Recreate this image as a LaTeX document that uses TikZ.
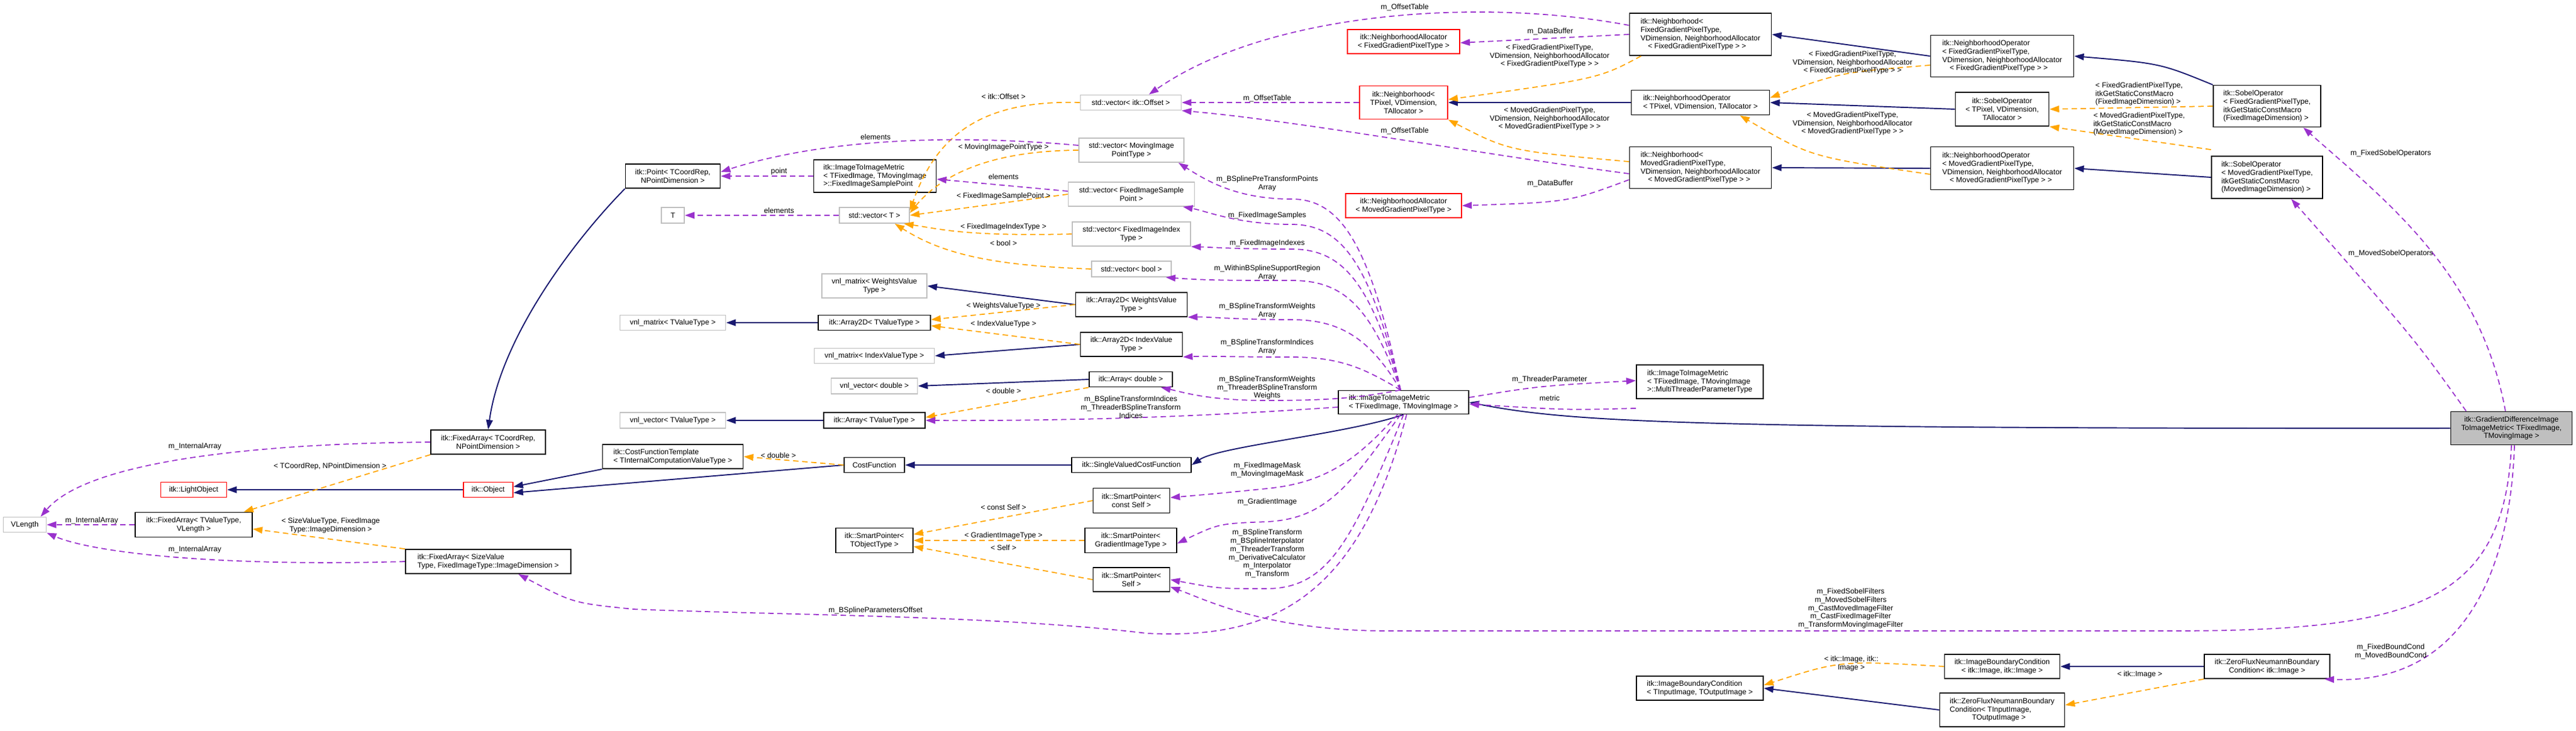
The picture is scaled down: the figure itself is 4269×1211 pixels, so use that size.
\documentclass[tikz,border=0pt]{standalone}
\usepackage{fontspec}
\setmainfont{Liberation Sans}
\usetikzlibrary{arrows.meta}
\definecolor{inhblue}{HTML}{191970}
\definecolor{tplorange}{HTML}{FFA500}
\definecolor{usepurple}{HTML}{9A32CD}
\definecolor{undoc}{HTML}{BFBFBF}
\begin{document}
\begin{tikzpicture}[x=0.01cm,y=-0.01cm,
    font=\fontsize{3.5}{3.9}\selectfont,
    cls/.style={draw=black, line width=0.5pt, inner sep=0pt, align=center},
    clsgray/.style={cls, draw=undoc},
    clsred/.style={cls, draw=red},
    lbl/.style={inner sep=0pt, align=center},
    tip/.style={-{Triangle[length=0.16cm,width=0.11cm]}},
    inh/.style={tip, draw=inhblue, line width=0.55pt},
    tpl/.style={tip, draw=tplorange, line width=0.5pt, dash pattern=on 0.09cm off 0.06cm},
    use/.style={tip, draw=usepurple, line width=0.5pt, dash pattern=on 0.09cm off 0.06cm}]
  \useasboundingbox (0,0) rectangle (4269,1211);

  % left column
  \node[clsgray, minimum width=0.71cm, minimum height=0.25cm] (vlen) at (41,870) {VLength};
  \node[clsred, minimum width=1.09cm, minimum height=0.25cm] (light) at (321,812) {itk::LightObject};
  \node[clsred, minimum width=0.82cm, minimum height=0.25cm] (obj) at (809,812) {itk::Object};
  \node[cls, minimum width=1.94cm, minimum height=0.41cm] (fatv) at (321,870) {itk::FixedArray< TValueType,\\VLength >};
  \node[cls, minimum width=1.90cm, minimum height=0.40cm] (fatc) at (809,733) {itk::FixedArray< TCoordRep,\\NPointDimension >};
  \node[cls, minimum width=2.74cm, minimum height=0.40cm, align=left] (fasv) at (809,931) {itk::FixedArray< SizeValue\\Type, FixedImageType::ImageDimension >};

  % second column
  \node[cls, minimum width=1.57cm, minimum height=0.40cm] (point) at (1115,292) {itk::Point< TCoordRep,\\NPointDimension >};
  \node[clsgray, minimum width=0.38cm, minimum height=0.26cm] (tt) at (1115,357) {T};
  \node[clsgray, minimum width=1.75cm, minimum height=0.25cm] (vnlmt) at (1115,535) {vnl\_matrix< TValueType >};
  \node[clsgray, minimum width=1.75cm, minimum height=0.26cm] (vnlvt) at (1115,697) {vnl\_vector< TValueType >};
  \node[cls, minimum width=2.33cm, minimum height=0.40cm, align=left] (cft) at (1115,757) {itk::CostFunctionTemplate\\< TInternalComputationValueType >};

  % third column
  \node[cls, minimum width=2.03cm, minimum height=0.54cm, align=left] (fisp) at (1450,292) {itk::ImageToImageMetric\\< TFixedImage, TMovingImage\\ >::FixedImageSamplePoint};
  \node[clsgray, minimum width=1.16cm, minimum height=0.26cm] (vect) at (1449,357) {std::vector< T >};
  \node[clsgray, minimum width=1.74cm, minimum height=0.40cm] (vnlmw) at (1449,474) {vnl\_matrix< WeightsValue\\Type >};
  \node[cls, minimum width=1.86cm, minimum height=0.25cm] (a2dt) at (1449,535) {itk::Array2D< TValueType >};
  \node[clsgray, minimum width=1.99cm, minimum height=0.25cm] (vnlmi) at (1449,590) {vnl\_matrix< IndexValueType >};
  \node[clsgray, minimum width=1.43cm, minimum height=0.26cm] (vnlvd) at (1449,640) {vnl\_vector< double >};
  \node[cls, minimum width=1.68cm, minimum height=0.26cm] (arrt) at (1449,697) {itk::Array< TValueType >};
  \node[cls, minimum width=1.00cm, minimum height=0.25cm] (cf) at (1449,771) {CostFunction};
  \node[cls, minimum width=1.28cm, minimum height=0.41cm] (spt) at (1449,896) {itk::SmartPointer<\\TObjectType >};

  % fourth column
  \node[clsgray, minimum width=1.67cm, minimum height=0.25cm] (vecoff) at (1874,170) {std::vector< itk::Offset >};
  \node[clsgray, minimum width=1.74cm, minimum height=0.40cm] (vecmip) at (1875,249) {std::vector< MovingImage\\PointType >};
  \node[clsgray, minimum width=2.09cm, minimum height=0.40cm] (vecfisp) at (1875,322) {std::vector< FixedImageSample\\Point >};
  \node[clsgray, minimum width=1.96cm, minimum height=0.40cm] (vecfii) at (1875,388) {std::vector< FixedImageIndex\\Type >};
  \node[clsgray, minimum width=1.32cm, minimum height=0.26cm] (vecbool) at (1875,446) {std::vector< bool >};
  \node[cls, minimum width=1.85cm, minimum height=0.40cm] (a2dw) at (1875,505) {itk::Array2D< WeightsValue\\Type >};
  \node[cls, minimum width=1.69cm, minimum height=0.40cm] (a2di) at (1875,571) {itk::Array2D< IndexValue\\Type >};
  \node[cls, minimum width=1.38cm, minimum height=0.25cm] (arrd) at (1874,629) {itk::Array< double >};
  \node[cls, minimum width=1.98cm, minimum height=0.25cm] (svcf) at (1875,771) {itk::SingleValuedCostFunction};
  \node[cls, minimum width=1.27cm, minimum height=0.41cm] (spc) at (1875,830) {itk::SmartPointer<\\const Self >};
  \node[cls, minimum width=1.52cm, minimum height=0.41cm] (spg) at (1874,896) {itk::SmartPointer<\\GradientImageType >};
  \node[cls, minimum width=1.27cm, minimum height=0.40cm] (sps) at (1875,961) {itk::SmartPointer<\\Self >};

  % fifth column
  \node[clsred, minimum width=1.86cm, minimum height=0.40cm] (naf) at (2326,69) {itk::NeighborhoodAllocator\\< FixedGradientPixelType >};
  \node[clsred, minimum width=1.46cm, minimum height=0.55cm] (nbt) at (2326,170) {itk::Neighborhood<\\TPixel, VDimension,\\TAllocator >};
  \node[clsred, minimum width=1.92cm, minimum height=0.40cm] (nam) at (2326,341) {itk::NeighborhoodAllocator\\< MovedGradientPixelType >};
  \node[cls, fill=undoc!0, minimum width=2.16cm, minimum height=0.39cm, align=left] (metric) at (2326,667) {itk::ImageToImageMetric\\< TFixedImage, TMovingImage >};

  % sixth column
  \node[cls, minimum width=2.35cm, minimum height=0.70cm, align=left] (nbf) at (2818,57) {itk::Neighborhood<\\ FixedGradientPixelType,\\ VDimension, NeighborhoodAllocator\\ \quad< FixedGradientPixelType > >};
  \node[cls, minimum width=2.29cm, minimum height=0.41cm, align=left] (not) at (2818,170) {itk::NeighborhoodOperator\\< TPixel, VDimension, TAllocator >};
  \node[cls, minimum width=2.35cm, minimum height=0.69cm, align=left] (nbm) at (2818,278) {itk::Neighborhood<\\ MovedGradientPixelType,\\ VDimension, NeighborhoodAllocator\\ \quad< MovedGradientPixelType > >};
  \node[cls, minimum width=2.10cm, minimum height=0.56cm, align=left] (mtp) at (2817,633) {itk::ImageToImageMetric\\< TFixedImage, TMovingImage\\ >::MultiThreaderParameterType};
  \node[cls, minimum width=2.10cm, minimum height=0.40cm, align=left] (ibct) at (2817,1141) {itk::ImageBoundaryCondition\\< TInputImage, TOutputImage >};

  % seventh column
  \node[cls, minimum width=2.37cm, minimum height=0.69cm, align=left] (nof) at (3318,93) {itk::NeighborhoodOperator\\< FixedGradientPixelType,\\ VDimension, NeighborhoodAllocator\\ \quad< FixedGradientPixelType > >};
  \node[cls, minimum width=1.55cm, minimum height=0.56cm] (sot) at (3318,181) {itk::SobelOperator\\< TPixel, VDimension,\\TAllocator >};
  \node[cls, minimum width=2.37cm, minimum height=0.71cm, align=left] (nom) at (3318,279) {itk::NeighborhoodOperator\\< MovedGradientPixelType,\\ VDimension, NeighborhoodAllocator\\ \quad< MovedGradientPixelType > >};
  \node[cls, minimum width=1.91cm, minimum height=0.40cm] (ibci) at (3318,1105) {itk::ImageBoundaryCondition\\< itk::Image, itk::Image >};
  \node[cls, minimum width=2.07cm, minimum height=0.56cm, align=left] (zft) at (3318,1177) {itk::ZeroFluxNeumannBoundary\\Condition< TInputImage,\\ \qquad\quad TOutputImage >};

  % eighth column
  \node[cls, minimum width=1.78cm, minimum height=0.69cm, align=left] (sof) at (3757,176) {itk::SobelOperator\\< FixedGradientPixelType,\\ itkGetStaticConstMacro\\ (FixedImageDimension) >};
  \node[cls, minimum width=1.84cm, minimum height=0.70cm, align=left] (som) at (3757,294) {itk::SobelOperator\\< MovedGradientPixelType,\\ itkGetStaticConstMacro\\ (MovedImageDimension) >};
  \node[cls, minimum width=2.08cm, minimum height=0.40cm] (zfi) at (3757,1105) {itk::ZeroFluxNeumannBoundary\\Condition< itk::Image >};
  \node[cls, fill=undoc, minimum width=2.01cm, minimum height=0.55cm] (grad) at (4162,710) {itk::GradientDifferenceImage\\ToImageMetric< TFixedImage,\\TMovingImage >};

  % inheritance
  \draw[inh] (grad.west) .. controls (2800,711) and (2600,700) .. (metric.east);
  \draw[inh] (metric.south) .. controls (2230,720) and (2020,740) .. (svcf.east);
  \draw[inh] (svcf.west) -- (cf.east);
  \draw[inh] (cf.west) -- ([yshift=-0.05cm]obj.east);
  \draw[inh] (cft.south west) -- ([yshift=0.05cm]obj.east);
  \draw[inh] (obj.west) -- (light.east);
  \draw[inh] (point.south west) .. controls (950,400) and (830,560) .. (fatc.north);
  \draw[inh] (a2dw.west) -- (vnlmw.east);
  \draw[inh] (a2dt.west) -- (vnlmt.east);
  \draw[inh] (a2di.west) -- (vnlmi.east);
  \draw[inh] (arrd.west) -- (vnlvd.east);
  \draw[inh] (arrt.west) -- (vnlvt.east);
  \draw[inh] (not.west) -- (nbt.east);
  \draw[inh] (nof.west) -- (nbf.east);
  \draw[inh] (nom.west) -- (nbm.east);
  \draw[inh] (sot.west) -- (not.east);
  \draw[inh] (sof.north west) .. controls (3580,105) .. (nof.east);
  \draw[inh] (som.west) -- (nom.east);
  \draw[inh] (zfi.west) -- (ibci.east);
  \draw[inh] (zft.west) -- (ibct.east);

  % template instances
  \draw[tpl] (fatc.south west) -- ([xshift=-0.15cm]fatv.north east);
  \draw[tpl] (fasv.north west) -- ([yshift=-0.07cm]fatv.east);
  \draw[tpl] (vecoff.west) .. controls (1620,165) and (1550,230) .. ([yshift=0.08cm]vect.east);
  \draw[tpl] (vecmip.west) .. controls (1640,250) and (1560,290) .. ([yshift=0.04cm]vect.east);
  \draw[tpl] (vecfisp.west) -- (vect.east);
  \draw[tpl] (vecfii.west) .. controls (1600,392) and (1560,380) .. ([xshift=-0.1cm]vect.south east);
  \draw[tpl] (vecbool.west) .. controls (1640,440) and (1560,420) .. ([xshift=-0.25cm]vect.south east);
  \draw[tpl] (a2dw.west) -- ([yshift=0.05cm]a2dt.east);
  \draw[tpl] (a2di.west) -- ([yshift=-0.05cm]a2dt.east);
  \draw[tpl] (arrd.south west) -- ([yshift=0.05cm]arrt.east);
  \draw[tpl] (cf.west) -- (cft.east);
  \draw[tpl] (spc.west) -- ([yshift=0.1cm]spt.east);
  \draw[tpl] (spg.west) -- (spt.east);
  \draw[tpl] (sps.west) -- ([yshift=-0.1cm]spt.east);
  \draw[tpl] ([xshift=0.2cm]nbf.south west) .. controls (2650,130) .. ([yshift=0.05cm]nbt.east);
  \draw[tpl] ([yshift=0.1cm]nbm.west) .. controls (2500,250) .. (nbt.south east);
  \draw[tpl] ([yshift=-0.15cm]nof.west) .. controls (3050,120) .. ([yshift=0.08cm]not.east);
  \draw[tpl] ([yshift=-0.1cm]nom.west) .. controls (3000,260) .. ([xshift=-0.5cm]not.south east);
  \draw[tpl] (sof.west) -- (sot.east);
  \draw[tpl] ([yshift=0.1cm]som.north west) -- (sot.south east);
  \draw[tpl] (zfi.south west) -- ([yshift=0.08cm]zft.east);
  \draw[tpl] (ibci.west) .. controls (3050,1095) .. ([yshift=0.05cm]ibct.east);

  % members
  \draw[use] (fatc.west) .. controls (450,735) and (150,760) .. ([xshift=-0.1cm]vlen.north east);
  \draw[use] (fatv.west) -- (vlen.east);
  \draw[use] (fasv.west) .. controls (350,940) and (150,915) .. (vlen.south east);
  \draw[use] ([yshift=0.08cm]vecmip.west) .. controls (1550,220) and (1350,235) .. ([yshift=0.07cm]point.east);
  \draw[use] (fisp.west) -- (point.east);
  \draw[use] ([yshift=0.05cm]vecfisp.west) -- ([yshift=-0.05cm]fisp.east);
  \draw[use] (vect.west) -- (tt.east);
  \draw[use] (nbt.west) -- (vecoff.east);
  \draw[use] ([yshift=0.15cm]nbf.west) .. controls (2450,-5) and (2100,20) .. ([xshift=0.3cm]vecoff.north);
  \draw[use] ([yshift=-0.1cm]nbm.west) .. controls (2450,255) and (2150,200) .. (vecoff.south east);
  \draw[use] (nbf.west) -- ([yshift=-0.02cm]naf.east);
  \draw[use] ([yshift=-0.2cm]nbm.west) .. controls (2600,335) .. (nam.east);
  \draw[use] ([yshift=0.08cm]metric.east) .. controls (2550,640) .. ([yshift=0.02cm]mtp.west);
  \draw[use] ([yshift=-0.15cm]mtp.south west) .. controls (2600,680) .. ([yshift=-0.03cm]metric.east);

  % members of the metric, upwards
  \draw[use] ([xshift=-0.05cm]metric.north) .. controls (2270,400) and (2220,330) .. (2140,330) .. controls (2050,330) and (2000,300) .. ([xshift=-0.1cm]vecmip.south east);
  \draw[use] ([xshift=-0.05cm]metric.north) .. controls (2270,430) and (2220,372) .. (2140,372) .. controls (2050,372) and (2000,350) .. ([xshift=-0.2cm]vecfisp.south east);
  \draw[use] ([xshift=-0.05cm]metric.north) .. controls (2270,460) and (2220,413) .. (2140,413) .. controls (2050,413) and (2010,410) .. (vecfii.south east);
  \draw[use] ([xshift=-0.05cm]metric.north) .. controls (2270,500) and (2220,465) .. (2140,465) .. controls (2050,465) and (2000,465) .. ([xshift=-0.1cm]vecbool.south east);
  \draw[use] ([xshift=-0.05cm]metric.north) .. controls (2270,560) and (2220,530) .. (2140,530) .. controls (2050,530) and (2000,525) .. (a2dw.south east);
  \draw[use] ([xshift=-0.05cm]metric.north) .. controls (2260,610) and (2220,592) .. (2140,592) .. controls (2050,592) and (2000,590) .. (a2di.south east);
  \draw[use] ([xshift=-0.05cm]metric.north) .. controls (2250,660) and (2200,664) .. (2100,664) .. controls (2000,664) and (1960,650) .. ([xshift=-0.2cm]arrd.south east);
  \draw[use] ([yshift=-0.08cm]metric.west) .. controls (2000,690) and (1800,698) .. (arrt.east);

  % members of the metric, downwards
  \draw[use] ([xshift=-0.1cm]metric.south) .. controls (2250,760) and (2200,800) .. (2100,810) .. controls (2020,818) .. ([yshift=0.05cm]spc.east);
  \draw[use] ([xshift=-0.05cm]metric.south) .. controls (2240,800) and (2200,860) .. (2100,865) .. controls (2020,868) .. ([yshift=-0.05cm]spg.east);
  \draw[use] (metric.south) .. controls (2240,900) and (2200,975) .. (2100,976) .. controls (2020,976) .. (sps.east);
  \draw[use] ([xshift=0.05cm]metric.south) .. controls (2250,1000) and (2100,1060) .. (1900,1050) .. controls (1650,1020) and (1300,1020) .. (1050,1010) .. controls (950,1000) .. ([xshift=0.5cm]fasv.south);

  % members of the gradient metric
  \draw[use] ([xshift=-0.1cm]grad.north) .. controls (4110,450) and (3950,330) .. ([xshift=0.6cm]sof.south);
  \draw[use] ([xshift=-0.75cm]grad.north) .. controls (4000,560) .. ([xshift=0.4cm]som.south);
  \draw[use] (grad.south) .. controls (4150,1000) and (4000,1046) .. (3600,1046) -- (2300,1046) .. controls (2100,1046) and (2000,995) .. ([yshift=-0.12cm]sps.east);
  \draw[use] ([xshift=0.05cm]grad.south) .. controls (4160,950) and (4080,1135) .. ([xshift=-0.1cm]zfi.south east);

  % labels
  \node[lbl] (l1) at (152,863) {m\_InternalArray};
  \node[lbl] (l2) at (323,740) {m\_InternalArray};
  \node[lbl] (l3) at (323,911) {m\_InternalArray};
  \node[lbl] (l4) at (547,773) {< TCoordRep, NPointDimension >};
  \node[lbl] (l5) at (548,871) {< SizeValueType, FixedImage\\Type::ImageDimension >};
  \node[lbl] (l6) at (1663,160) {< itk::Offset >};
  \node[lbl] (l7) at (1451,227) {elements};
  \node[lbl] (l8) at (1663,244) {< MovingImagePointType >};
  \node[lbl] (l9) at (1291,284) {point};
  \node[lbl] (l10) at (1663,293) {elements};
  \node[lbl] (l11) at (1663,325) {< FixedImageSamplePoint >};
  \node[lbl] (l12) at (1291,349) {elements};
  \node[lbl] (l13) at (1663,376) {< FixedImageIndexType >};
  \node[lbl] (l14) at (1663,403) {< bool >};
  \node[lbl] (l15) at (1663,507) {< WeightsValueType >};
  \node[lbl] (l16) at (1663,537) {< IndexValueType >};
  \node[lbl] (l17) at (1663,648) {< double >};
  \node[lbl] (l18) at (1874,675) {m\_BSplineTransformIndices\\m\_ThreaderBSplineTransform\\Indices};
  \node[lbl] (l19) at (1290,755) {< double >};
  \node[lbl] (l20) at (1663,841) {< const Self >};
  \node[lbl] (l21) at (1663,888) {< GradientImageType >};
  \node[lbl] (l22) at (1663,908) {< Self >};
  \node[lbl] (l23) at (1451,1012) {m\_BSplineParametersOffset};
  \node[lbl] (l24) at (2328,12) {m\_OffsetTable};
  \node[lbl] (l25) at (2569,52) {m\_DataBuffer};
  \node[lbl] (l26) at (2568,93) {< FixedGradientPixelType,\\VDimension, NeighborhoodAllocator\\< FixedGradientPixelType > >};
  \node[lbl] (l27) at (2100,163) {m\_OffsetTable};
  \node[lbl] (l28) at (2568,197) {< MovedGradientPixelType,\\VDimension, NeighborhoodAllocator\\< MovedGradientPixelType > >};
  \node[lbl] (l29) at (2328,217) {m\_OffsetTable};
  \node[lbl] (l30) at (2569,304) {m\_DataBuffer};
  \node[lbl] (l31) at (3070,104) {< FixedGradientPixelType,\\VDimension, NeighborhoodAllocator\\< FixedGradientPixelType > >};
  \node[lbl] (l32) at (3070,205) {< MovedGradientPixelType,\\VDimension, NeighborhoodAllocator\\< MovedGradientPixelType > >};
  \node[lbl] (l33) at (2100,304) {m\_BSplinePreTransformPoints\\Array};
  \node[lbl] (l34) at (2100,357) {m\_FixedImageSamples};
  \node[lbl] (l35) at (2100,403) {m\_FixedImageIndexes};
  \node[lbl] (l36) at (2100,452) {m\_WithinBSplineSupportRegion\\Array};
  \node[lbl] (l37) at (2100,515) {m\_BSplineTransformWeights\\Array};
  \node[lbl] (l38) at (2100,575) {m\_BSplineTransformIndices\\Array};
  \node[lbl] (l39) at (2100,643) {m\_BSplineTransformWeights\\m\_ThreaderBSplineTransform\\Weights};
  \node[lbl] (l40) at (2100,779) {m\_FixedImageMask\\m\_MovingImageMask};
  \node[lbl] (l41) at (2100,832) {m\_GradientImage};
  \node[lbl] (l42) at (2100,918) {m\_BSplineTransform\\m\_BSplineInterpolator\\m\_ThreaderTransform\\m\_DerivativeCalculator\\m\_Interpolator\\m\_Transform};
  \node[lbl] (l43) at (2568,629) {m\_ThreaderParameter};
  \node[lbl] (l44) at (2568,660) {metric};
  \node[lbl] (l45) at (3067,1009) {m\_FixedSobelFilters\\m\_MovedSobelFilters\\m\_CastMovedImageFilter\\m\_CastFixedImageFilter\\m\_TransformMovingImageFilter};
  \node[lbl] (l46) at (3068,1100) {< itk::Image, itk::\\Image >};
  \node[lbl, align=left] (l47) at (3545,156) {< FixedGradientPixelType,\\itkGetStaticConstMacro\\(FixedImageDimension) >};
  \node[lbl, align=left] (l48) at (3545,206) {< MovedGradientPixelType,\\itkGetStaticConstMacro\\(MovedImageDimension) >};
  \node[lbl] (l49) at (3962,254) {m\_FixedSobelOperators};
  \node[lbl] (l50) at (3962,420) {m\_MovedSobelOperators};
  \node[lbl] (l51) at (3962,1080) {m\_FixedBoundCond\\m\_MovedBoundCond};
  \node[lbl] (l52) at (3546,1118) {< itk::Image >};
\end{tikzpicture}
\end{document}
